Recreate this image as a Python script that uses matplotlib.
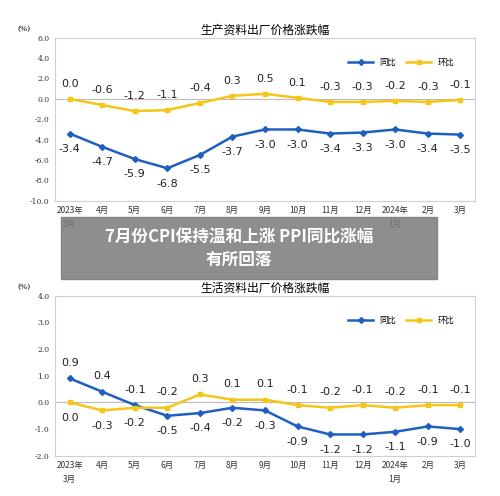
import matplotlib.pyplot as plt

plt.rcParams['font.family'] = ['Noto Sans CJK SC', 'DejaVu Sans']

months = ['2023年\n3月', '4月', '5月', '6月', '7月', '8月', '9月', '10月', '11月', '12月', '2024年\n1月', '2月', '3月']

prod_yoy = [-3.4, -4.7, -5.9, -6.8, -5.5, -3.7, -3.0, -3.0, -3.4, -3.3, -3.0, -3.4, -3.5]
prod_mom = [0.0, -0.6, -1.2, -1.1, -0.4, 0.3, 0.5, 0.1, -0.3, -0.3, -0.2, -0.3, -0.1]

life_yoy = [0.9, 0.4, -0.1, -0.5, -0.4, -0.2, -0.3, -0.9, -1.2, -1.2, -1.1, -0.9, -1.0]
life_mom = [0.0, -0.3, -0.2, -0.2, 0.3, 0.1, 0.1, -0.1, -0.2, -0.1, -0.2, -0.1, -0.1]

BLUE = '#1f5fbf'
YELLOW = '#f5c518'

fig = plt.figure(figsize=(5, 4.96), dpi=100)


def panel(rect, title, yoy, mom, ylim, step, yoy_side, mom_side):
    ax = fig.add_axes(rect)
    x = list(range(len(months)))
    ax.plot(x, yoy, color=BLUE, lw=1.8, marker='D', ms=3, label='同比')
    ax.plot(x, mom, color=YELLOW, lw=1.8, marker='s', ms=3, label='环比')
    ax.axhline(0, color='#bbbbbb', lw=0.8, zorder=0)
    for xi, v, s in zip(x, yoy, yoy_side):
        ax.annotate(f'{v:.1f}', (xi, v), xytext=(0, 11 * s), textcoords='offset points',
                    ha='center', va='center', fontsize=8, color='#222222', family='DejaVu Sans')
    for xi, v, s in zip(x, mom, mom_side):
        ax.annotate(f'{v:.1f}', (xi, v), xytext=(0, 11 * s), textcoords='offset points',
                    ha='center', va='center', fontsize=8, color='#222222', family='DejaVu Sans')
    ax.set_xlim(-0.45, len(months) - 0.55)
    ax.set_ylim(*ylim)
    ticks = [ylim[0] + i * step for i in range(int(round((ylim[1] - ylim[0]) / step)) + 1)]
    ax.set_yticks(ticks)
    ax.set_yticklabels([f'{t:.1f}' for t in ticks], fontsize=5.5, family='DejaVu Serif')
    ax.set_xticks(x)
    ax.set_xticklabels(months, fontsize=6, linespacing=1.6)
    ax.tick_params(length=0, pad=4, colors='#333333')
    for sp in ax.spines.values():
        sp.set_color('#d0d0d0')
        sp.set_linewidth(0.8)
    ax.set_title(title, fontsize=8.5, pad=3)
    ax.text(-0.09, 1.04, '(%)', transform=ax.transAxes, fontsize=5.5, family='DejaVu Serif')
    ax.legend(loc='upper right', bbox_to_anchor=(0.97, 0.92), ncol=2, frameon=False,
              fontsize=6, handlelength=3, columnspacing=1.2)
    return ax


panel([0.11, 0.595, 0.84, 0.329], '生产资料出厂价格涨跌幅', prod_yoy, prod_mom,
      (-10, 6), 2, [-1] * 13, [1] * 13)
panel([0.11, 0.081, 0.84, 0.323], '生活资料出厂价格涨跌幅', life_yoy, life_mom,
      (-2, 4), 1, [1, 1, 1] + [-1] * 10, [-1, -1, -1] + [1] * 10)

fig.patches.append(plt.Rectangle((0.122, 0.4375), 0.752, 0.1245, transform=fig.transFigure,
                                 color='#7a7a7a', alpha=0.85, zorder=10))
fig.text(0.478, 0.4995, '7月份CPI保持温和上涨 PPI同比涨幅\n有所回落', ha='center', va='center',
         color='white', fontsize=12, fontweight='bold', zorder=11, linespacing=1.3)

fig.savefig('out.png', dpi=100)
